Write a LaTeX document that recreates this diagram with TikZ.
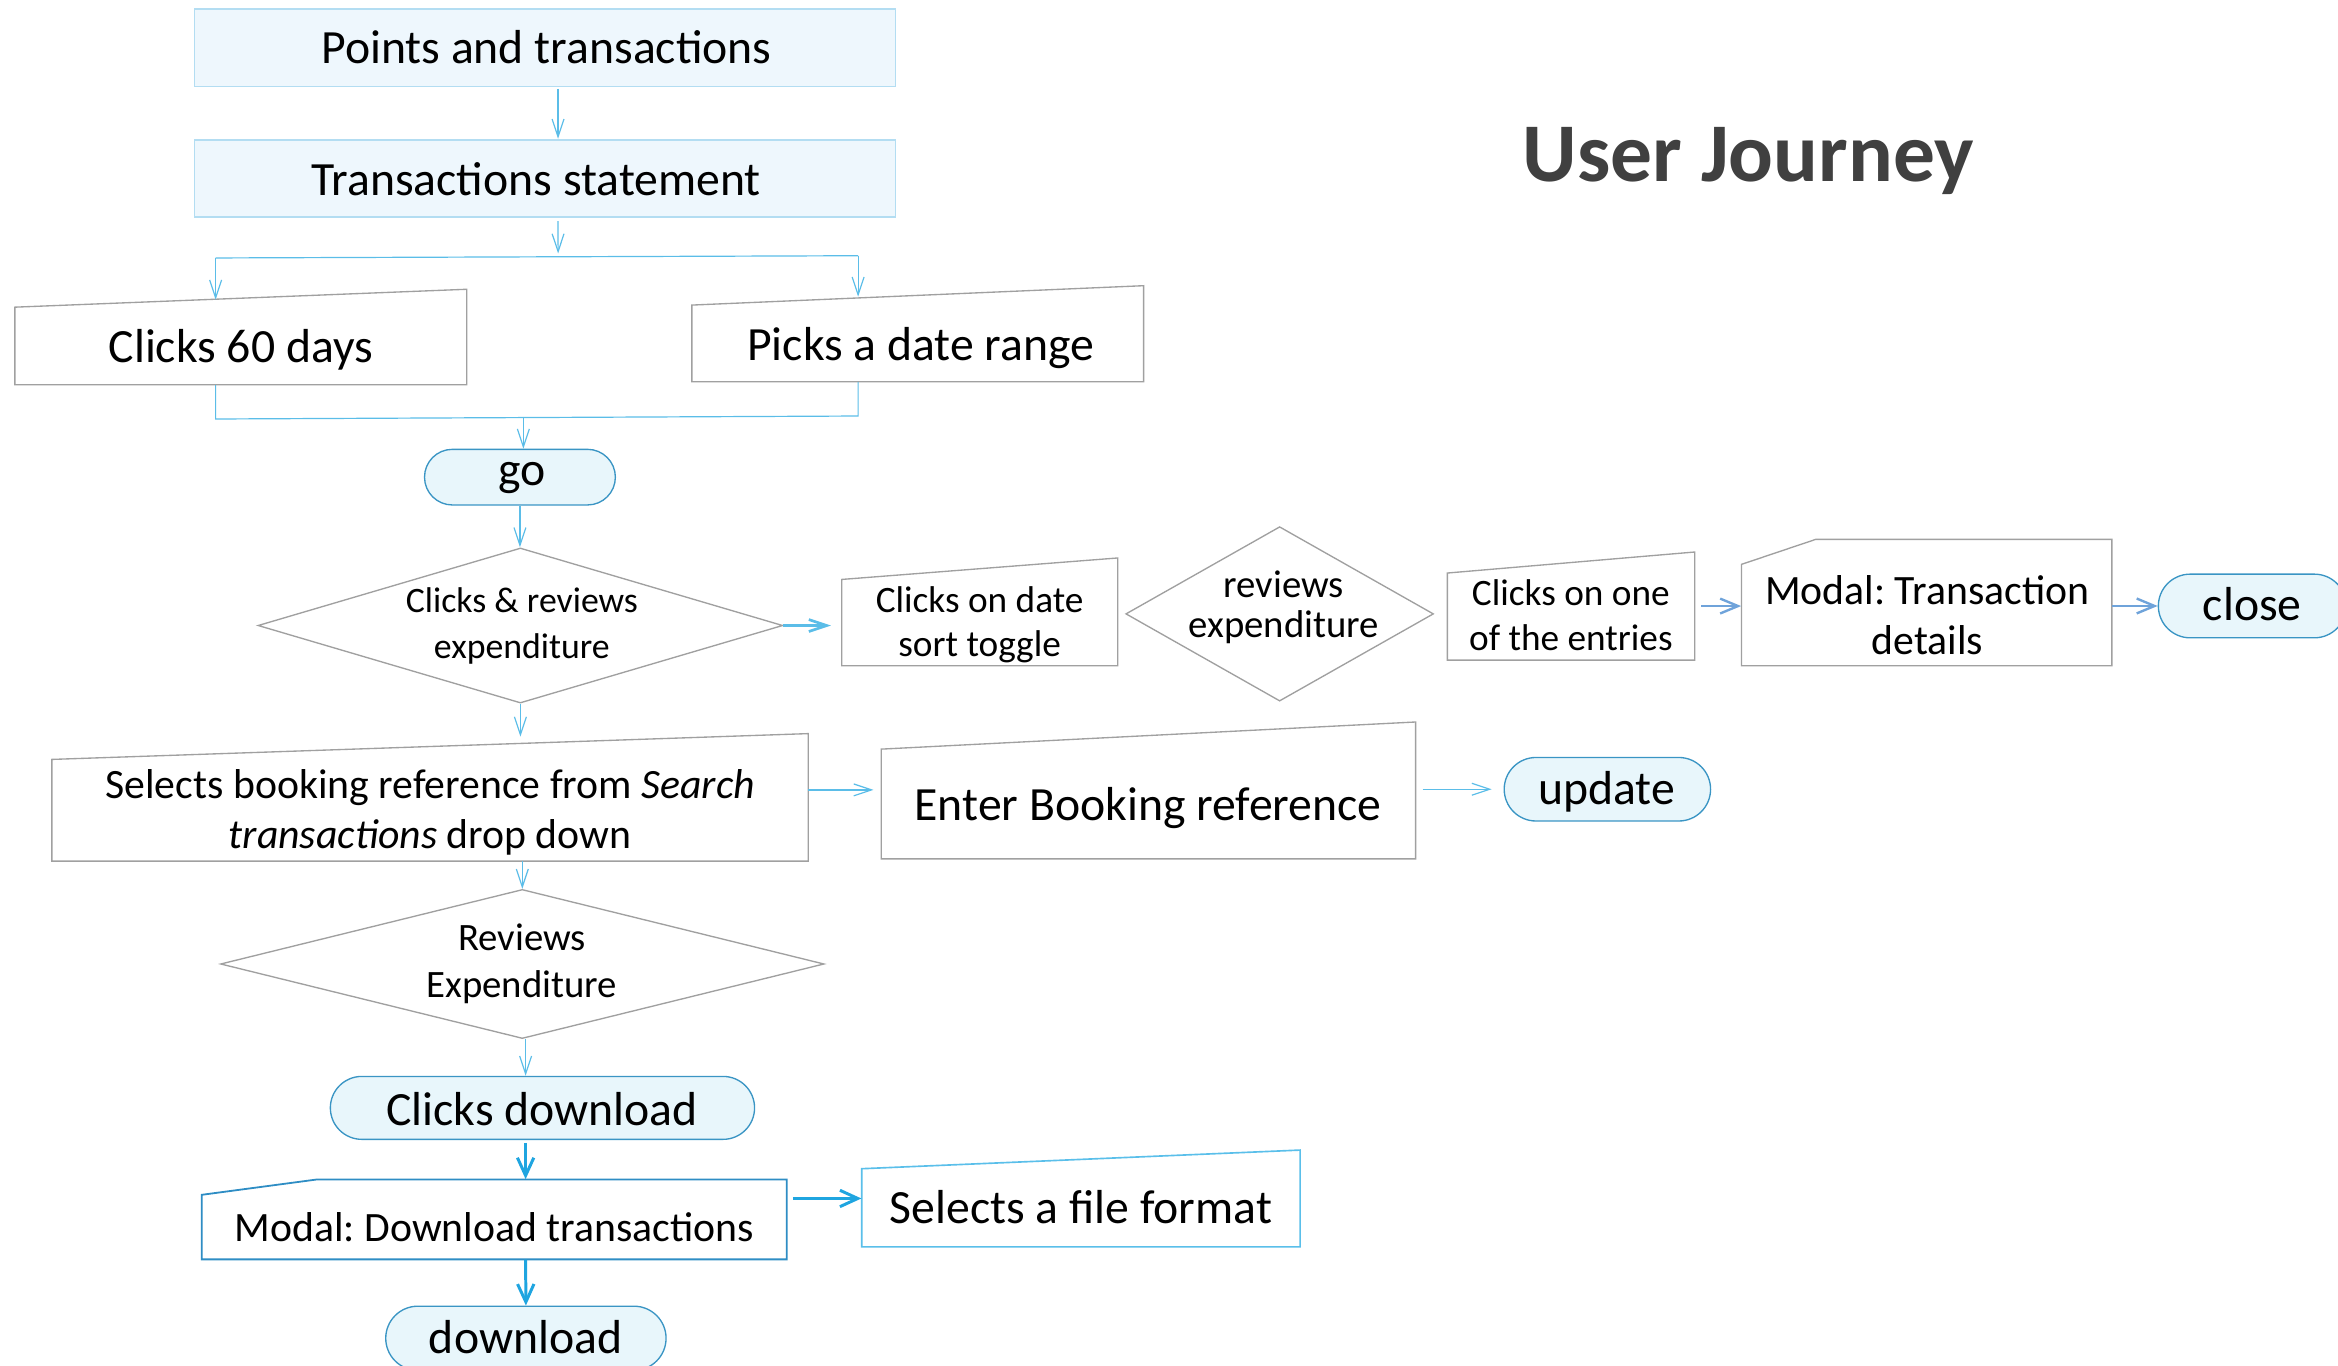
\documentclass[tikz,border=0pt]{standalone}
\usepackage{fontspec}
\setmainfont{Carlito}
\usetikzlibrary{arrows.meta,shapes.geometric,shapes.misc,fit}
\frenchspacing

\definecolor{linkblue}{HTML}{5BBDE8}
\definecolor{midblue}{HTML}{6FA3DA}
\definecolor{boldblue}{HTML}{1FA5E0}
\definecolor{boxgray}{HTML}{A0A0A0}
\definecolor{termfill}{HTML}{E8F6FB}
\definecolor{termline}{HTML}{3A95C4}
\definecolor{topfill}{HTML}{EEF7FD}
\definecolor{topline}{HTML}{B3DDF2}
\definecolor{fileline}{HTML}{5ABFEA}
\definecolor{modalline}{HTML}{2E8DC4}
\definecolor{titlegray}{HTML}{404040}

% slanted-top "manual input" box: style, name, left, right, top-left, top-right, bottom
\newcommand\manualinput[7]{%
  \draw[#1] (#3,#7) -- (#3,#5) -- (#4,#6) -- (#4,#7) -- cycle;
  \coordinate (#2-a) at (#3,#6);
  \coordinate (#2-b) at (#4,#7);
  \node[frame, fit=(#2-a)(#2-b)] (#2) {};
}
% card with clipped top-left corner: style, name, left, right, top, bottom, cut y, cut x
\newcommand\cardbox[8]{%
  \draw[#1] (#3,#6) -- (#3,#7) -- (#8,#5) -- (#4,#5) -- (#4,#6) -- cycle;
  \coordinate (#2-a) at (#3,#5);
  \coordinate (#2-b) at (#4,#6);
  \node[frame, fit=(#2-a)(#2-b)] (#2) {};
}

\begin{document}
\begin{tikzpicture}[x=1pt, y=-1pt,
  frame/.style={rectangle, draw=none, inner sep=0pt},
  grayedge/.style={draw=boxgray, line width=0.9pt, fill=white},
  topbox/.style={rectangle, draw=topline, fill=topfill, line width=1.2pt, inner sep=0pt},
  terminal/.style={rounded rectangle, draw=termline, fill=termfill, line width=0.9pt, inner sep=0pt},
  decision/.style={diamond, draw=boxgray, fill=white, line width=0.9pt, inner sep=0pt},
  lbl/.style={inner sep=0pt, anchor=base, font=\fontsize{32}{38}\selectfont},
  lbltwo/.style={inner sep=0pt, anchor=center, align=center},
  link/.style={draw=linkblue, line width=0.8pt},
  arr/.style={link, -{Straight Barb[length=12pt, width=8pt]}},
  arrm/.style={draw=midblue, line width=1.6pt, -{Straight Barb[length=12pt, width=10pt]}},
  arrb/.style={draw=boldblue, line width=2pt, -{Straight Barb[length=12pt, width=11pt]}}
]
\path[use as bounding box] (0,0) rectangle (1568,916);
\clip (0,0) rectangle (1568,916);

% ---- shapes ----
\node[topbox, minimum width=470pt, minimum height=52pt] (pts) at (365.5,32) {};
\node[topbox, minimum width=470pt, minimum height=52pt] (stmt) at (365.5,119.7) {};

\manualinput{grayedge}{c60}{10}{313}{206}{194}{258}
\manualinput{grayedge}{rng}{464}{767}{204.6}{191.6}{256}

\node[terminal, minimum width=128pt, minimum height=37.3pt] (go) at (348.7,320) {};

\node[decision, minimum width=352pt, minimum height=104pt] (d1) at (349,419.5) {};
\manualinput{grayedge}{cds}{564.5}{749.6}{388.6}{374.2}{446.5}
\node[decision, minimum width=206.4pt, minimum height=117pt] (d2) at (858.2,411.7) {};
\manualinput{grayedge}{coe}{970.7}{1136.6}{384.3}{370.2}{442.7}
\cardbox{grayedge}{mtd}{1167.9}{1416.3}{361.7}{446.5}{378.5}{1217.8}
\node[terminal, minimum width=126pt, minimum height=42.7pt] (close) at (1510.5,406.4) {};

\manualinput{grayedge}{sbr}{34.8}{542}{509.3}{492}{577.5}
\manualinput{grayedge}{ebr}{591}{949.4}{502.4}{484.2}{576}
\node[terminal, minimum width=138.4pt, minimum height=42.6pt] (update) at (1078,529.3) {};

\node[decision, minimum width=404.8pt, minimum height=100pt] (d3) at (350.3,646.5) {};
\node[terminal, minimum width=284.5pt, minimum height=42.2pt] (cdl) at (363.8,743) {};
\cardbox{draw=modalline, line width=1.2pt, fill=white}{mdt}{135.3}{527.6}{791}{844.6}{801.3}{212.6}
\manualinput{draw=fileline, line width=1.1pt, fill=white}{sff}{577.9}{871.9}{783.8}{771.3}{836.2}
\node[terminal, minimum width=188pt, minimum height=43pt] (dl) at (352.7,897.5) {};

% ---- labels ----
\node[lbl] (pts-t) at (366.5,42.5) {Points and transactions};
\node[lbl] (stmt-t) at (359.5,130.8) {Transactions statement};
\node[lbl] (c60-t) at (161.5,243.2) {Clicks 60 days};
\node[lbl] (rng-t) at (617.5,242) {Picks a date range};
\node[lbl] (go-t) at (350,325.7) {go};
\node[lbltwo, font=\fontsize{24}{30.6}\selectfont] (d1-t) at (350,420.2) {\strut Clicks \& reviews\\\strut expenditure};
\node[lbltwo, font=\fontsize{25}{30}\selectfont] (cds-t) at (657,419.5) {\strut Clicks on date\\\strut sort toggle};
\node[lbltwo, font=\fontsize{26}{24.6}\selectfont] (d2-t) at (861,409) {\strut reviews\\\strut expenditure};
\node[lbltwo, font=\fontsize{25}{30}\selectfont] (coe-t) at (1053.5,415.4) {\strut Clicks on one\\\strut of the entries};
\node[lbltwo, font=\fontsize{28}{33.5}\selectfont] (mtd-t) at (1292.5,415.2) {\strut Modal: Transaction\\\strut details};
\node[lbl] (close-t) at (1510.5,416.3) {close};
\node[lbltwo, font=\fontsize{28}{33.6}\selectfont] (sbr-t) at (288.5,545.5) {\strut Selects booking reference from \textit{Search}\\\strut\textit{transactions} drop down};
\node[lbl] (ebr-t) at (770,550) {Enter Booking reference};
\node[lbl] (update-t) at (1077.5,539.5) {update};
\node[lbltwo, font=\fontsize{26}{31.3}\selectfont] (d3-t) at (350,647) {\strut Reviews\\\strut Expenditure};
\node[lbl] (cdl-t) at (363.5,754.5) {Clicks download};
\node[lbl, font=\fontsize{28}{34}\selectfont] (mdt-t) at (331.5,832.3) {Modal: Download transactions};
\node[lbl] (sff-t) at (725,820.5) {Selects a file format};
\node[lbl] (dl-t) at (352.5,907.7) {download};
\node[lbl, font=\fontsize{56}{62}\selectfont\bfseries, text=titlegray] (title) at (1172.5,121.9) {User Journey};

% ---- connectors ----
\draw[arr] ([xshift=8.75pt, yshift=-1pt]pts.south) -- ([xshift=8.75pt]stmt.north);
\coordinate (split) at (374.3,170);
\coordinate (sl) at (144.6,173);
\coordinate (sr) at (575.5,171.5);
\coordinate (c60in) at (144.6,201);
\coordinate (rngin) at (575.5,199);
\draw[arr] ([xshift=8.75pt, yshift=-2pt]stmt.south) -- (split);
\draw[link] (sl) -- (sr);
\draw[arr] (sl) -- (c60in);
\draw[arr] (sr) -- (rngin);

\coordinate (ml) at (144.6,281);
\coordinate (mr) at (575.5,279);
\coordinate (mm) at (351,279.5);
\draw[link] (ml |- c60.south) -- (ml) -- (mr) -- (mr |- rng.south);
\draw[arr] (mm) -- (mm |- go.north);
\draw[arr] (go.south) -- (go.south |- d1.north);

\draw[arr, line width=1.8pt, shorten >=7pt] (d1.east) -- (d1.east -| cds.west);
\draw[arrm, shorten <=4pt] (coe.east) -- (coe.east -| mtd.west);
\draw[arrm] (close.west -| mtd.east) -- (close.west);

\coordinate (sbrin) at (349,494);
\draw[arr] (d1.south) -- (sbrin);
\draw[arr, shorten >=5pt] ([yshift=5pt]sbr.east) -- ([yshift=5pt]sbr.east -| ebr.west);
\draw[arr, shorten <=4.5pt, shorten >=8pt] (update.west -| ebr.east) -- (update.west);

\draw[arr] (d3.north |- sbr.south) -- (d3.north);
\coordinate (vx) at (352.5,0);
\draw[arr] (vx |- d3.south) -- (vx |- cdl.north);
\draw[arrb, shorten <=2pt] (vx |- cdl.south) -- (vx |- mdt.north);
\draw[arrb, shorten <=4pt] (sff.west -| mdt.east) -- (sff.west);
\draw[arrb] (vx |- mdt.south) -- (dl.north);
\end{tikzpicture}
\end{document}
